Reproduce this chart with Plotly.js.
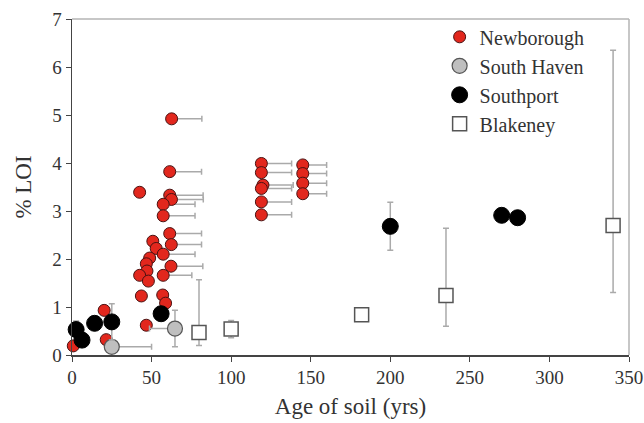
<!DOCTYPE html>
<html>
<head>
<meta charset="utf-8">
<script src="https://cdn.plot.ly/plotly-3.0.1.min.js"></script>
<style>
  html, body { margin: 0; padding: 0; background: #fff; }
  #graphDiv { width: 644px; height: 423px; }
  #graphDiv svg text { font-family: "Liberation Serif", "Times New Roman", serif !important; }
</style>
</head>
<body>
<div id="graphDiv"></div>
<script>
// Newborough: age (yrs), % LOI, age error (+ side only)
const newX = [62.6, 61.4, 42.5, 61.4, 62.5, 57.3, 57.3, 61.4, 62.4, 50.8, 52.9, 57.3, 48.8,
              46.7, 47.1, 42.5, 48.0, 62.2, 57.3, 43.6, 57.0, 58.8, 46.7, 20.2, 21.5, 0.8,
              119, 119, 120, 119, 119, 119, 145, 145, 145, 145];
const newY = [4.92, 3.82, 3.39, 3.33, 3.24, 3.14, 2.90, 2.53, 2.30, 2.37, 2.22, 2.10, 2.02,
              1.90, 1.75, 1.66, 1.54, 1.85, 1.66, 1.23, 1.25, 1.08, 0.62, 0.93, 0.32, 0.19,
              3.99, 3.80, 3.54, 3.47, 3.19, 2.92, 3.96, 3.78, 3.58, 3.36];
const newErrX = [19, 20, 0, 21, 20, 20, 20, 20, 19, 0, 0, 20, 0,
                 0, 0, 0, 0, 20, 18, 0, 0, 0, 0, 0, 0, 0,
                 19, 19, 19, 19, 19, 19, 15, 15, 15, 15];

// South Haven
const shX = [25, 64.7];
const shY = [0.17, 0.55];
const shErrXPlus = [25, 0];
const shErrXMinus = [0, 16];
const shErrY = [0, 0.38];

// Southport
const spX = [2.6, 6.3, 14.2, 25, 56, 200, 270, 280];
const spY = [0.53, 0.31, 0.66, 0.69, 0.86, 2.68, 2.91, 2.86];
const spErrY = [0.18, 0.15, 0.05, 0.38, 0.1, 0.5, 0.05, 0.05];

// Blakeney
const blX = [79.8, 100, 182, 235, 340];
const blY = [0.47, 0.54, 0.84, 1.24, 2.70];
const blErrYPlus = [1.1, 0.18, 0.05, 1.4, 3.65];
const blErrYMinus = [0.27, 0.18, 0.05, 0.64, 1.40];

const errColor = '#aaaaaa';
const serif = 'Liberation Serif';

const blakeney = {
	type: 'scatter', mode: 'markers', name: 'Blakeney', legendrank: 4,
	x: blX, y: blY,
	marker: { symbol: 'square', size: 14, color: '#ffffff', line: { color: '#555555', width: 1.5 } },
	error_y: { type: 'data', symmetric: false, array: blErrYPlus, arrayminus: blErrYMinus,
		color: errColor, thickness: 1.5, width: 3 },
	cliponaxis: false,
};

const newborough = {
	type: 'scatter', mode: 'markers', name: 'Newborough', legendrank: 1,
	x: newX, y: newY,
	marker: { symbol: 'circle', size: 12, color: '#e2271d', line: { color: '#4a1212', width: 1 } },
	error_x: { type: 'data', symmetric: false, array: newErrX, arrayminus: newErrX.map(() => 0),
		color: errColor, thickness: 1.5, width: 3 },
	cliponaxis: false,
};

const southHaven = {
	type: 'scatter', mode: 'markers', name: 'South Haven', legendrank: 2,
	x: shX, y: shY,
	marker: { symbol: 'circle', size: 15, color: '#bfbfbf', line: { color: '#555555', width: 1.2 } },
	error_x: { type: 'data', symmetric: false, array: shErrXPlus, arrayminus: shErrXMinus,
		color: errColor, thickness: 1.5, width: 3 },
	error_y: { type: 'data', array: shErrY, color: errColor, thickness: 1.5, width: 3 },
	cliponaxis: false,
};

const southport = {
	type: 'scatter', mode: 'markers', name: 'Southport', legendrank: 3,
	x: spX, y: spY,
	marker: { symbol: 'circle', size: 16, color: '#000000', line: { color: '#000000', width: 1 } },
	error_y: { type: 'data', array: spErrY, color: errColor, thickness: 1.5, width: 3 },
	cliponaxis: false,
};

const layout = {
	width: 644, height: 423,
	margin: { l: 72, r: 15, t: 19, b: 68 },
	paper_bgcolor: '#ffffff', plot_bgcolor: '#ffffff',
	font: { family: serif, color: '#333333', size: 17 },
	showlegend: true,
	legend: {
		x: 0.66, y: 1.005, xanchor: 'left', yanchor: 'top',
		font: { family: serif, size: 20, color: '#333333' },
		bgcolor: 'rgba(0,0,0,0)', tracegroupgap: 0,
	},
	xaxis: {
		range: [0, 350], tickvals: [0, 50, 100, 150, 200, 250, 300, 350],
		showgrid: false, zeroline: false, showline: true, linecolor: '#444444', linewidth: 1.5,
		ticks: 'outside', ticklen: 5, tickcolor: '#444444',
		tickfont: { family: serif, size: 19, color: '#333333' },
		title: { text: 'Age of soil (yrs)', font: { family: serif, size: 23, color: '#333333' }, standoff: 10 },
	},
	yaxis: {
		range: [0, 7], tickvals: [0, 1, 2, 3, 4, 5, 6, 7],
		showgrid: false, zeroline: false, showline: true, linecolor: '#444444', linewidth: 1.5,
		ticks: 'outside', ticklen: 5, tickcolor: '#444444',
		tickfont: { family: serif, size: 19, color: '#333333' },
		title: { text: '% LOI', font: { family: serif, size: 23, color: '#333333' }, standoff: 14 },
	},
	shapes: [
		{ type: 'line', xref: 'paper', yref: 'paper', x0: 0, x1: 1, y0: 1, y1: 1,
			line: { color: '#b5b5b5', width: 1.5 } },
		{ type: 'line', xref: 'paper', yref: 'paper', x0: 1, x1: 1, y0: 0, y1: 1,
			line: { color: '#b5b5b5', width: 1.5 } },
	],
};

const data = [blakeney, newborough, southHaven, southport];
Plotly.newPlot('graphDiv', data, layout, { staticPlot: true });
</script>
</body>
</html>
